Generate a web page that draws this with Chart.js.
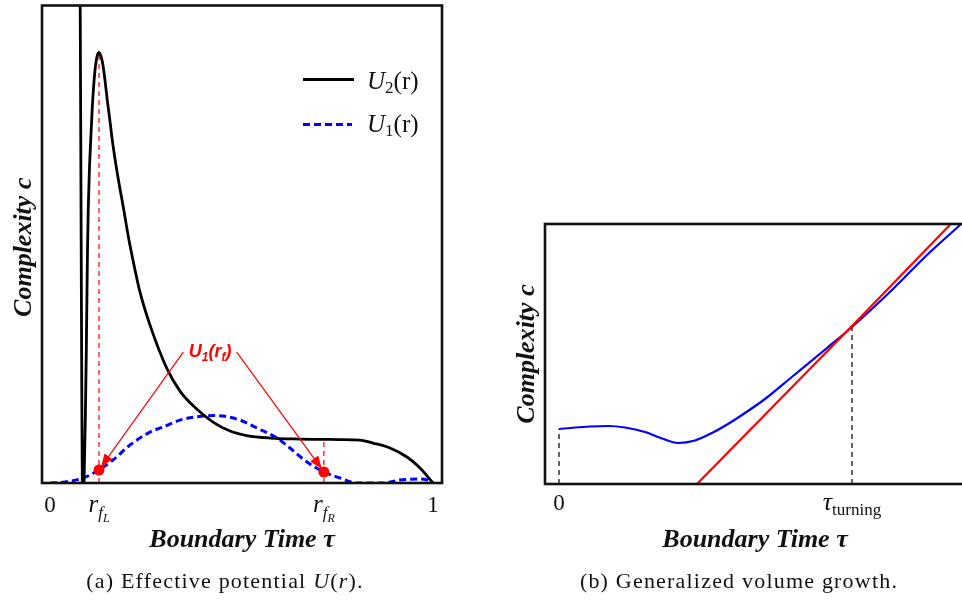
<!DOCTYPE html>
<html>
<head>
<meta charset="utf-8">
<script src="https://cdn.jsdelivr.net/npm/chart.js@4.4.1/dist/chart.umd.min.js"></script>
<style>
  body { margin: 0; width: 962px; height: 601px; overflow: hidden; background: #fff; position: relative; }
  #boxA { position: absolute; left: 0; top: 0; width: 470px; height: 601px; }
  #boxB { position: absolute; left: 500px; top: 0; width: 480px; height: 601px; }
  .cap { position: absolute; top: 568px; font-family: "Liberation Serif", "DejaVu Serif", serif; font-size: 22px;
         letter-spacing: 1.2px; white-space: nowrap; transform: translateX(-50%); color: #111; }
</style>
</head>
<body>
<div id="boxA"><canvas id="chartA"></canvas></div>
<div id="boxB"><canvas id="chartB"></canvas></div>
<div class="cap" style="left:225px">(a) Effective potential <i>U</i>(<i>r</i>).</div>
<div class="cap" style="left:739px">(b) Generalized volume growth.</div>

<script>
// ---- (a) effective potentials ----
var rU2 = [0.0783, 0.0859, 0.0888, 0.0922, 0.0948, 0.0966, 0.0979, 0.1000, 0.1026, 0.1063, 0.1104,
           0.1167, 0.1222, 0.1279, 0.1339, 0.1384, 0.1436, 0.1496, 0.1567, 0.1627, 0.1757, 0.1914,
           0.2063, 0.2238, 0.2350, 0.2611, 0.3047, 0.3394, 0.3830, 0.4256, 0.4700, 0.5136, 0.5744,
           0.6527, 0.7572, 0.8094, 0.8433, 0.8877, 0.9321, 0.9661, 1.0];
var u2 = [5.23, -0.37, 0.0, 0.63, 1.33, 1.93, 2.33, 2.76, 3.10, 3.43, 3.76,
          4.10, 4.26, 4.31, 4.26, 4.18, 4.03, 3.83, 3.62, 3.43, 3.10, 2.76,
          2.43, 2.10, 1.91, 1.58, 1.15, 0.92, 0.74, 0.61, 0.52, 0.475, 0.45,
          0.44, 0.435, 0.43, 0.40, 0.35, 0.26, 0.15, 0.0];
var rU1 = [0, 0.0392, 0.0862, 0.1279, 0.1645, 0.2089, 0.2611, 0.2950, 0.3394, 0.3995, 0.4256,
           0.4517, 0.4961, 0.5144, 0.5405, 0.5927, 0.6266, 0.6710, 0.7154, 0.7572, 0.8016,
           0.8695, 0.9138, 0.9582, 0.9843, 1.0];
var u1 = [0, 0.01, 0.05, 0.13, 0.23, 0.38, 0.51, 0.56, 0.63, 0.67, 0.675,
          0.67, 0.63, 0.60, 0.55, 0.45, 0.35, 0.21, 0.11, 0.05, 0,
          0, 0.03, 0.04, 0.03, 0];
var rTurn = [0.128, 0.715];      // r_fL, r_fR
var u1Turn = [0.13, 0.11];
var u2Turn = [4.31, 0.435];      // top of the guide lines

// ---- (b) complexity growth ----
var tau = [0, 0.16, 0.31, 0.49, 0.66, 0.86, 1.03, 1.19, 1.36, 1.53, 1.69, 1.86, 2.06, 2.34,
           2.68, 2.93, 3.34, 3.68, 4.01, 4.16];
var compl = [0.55, 0.565, 0.575, 0.58, 0.565, 0.52, 0.455, 0.41, 0.435, 0.51, 0.60, 0.71, 0.85, 1.08,
             1.36, 1.57, 1.95, 2.29, 2.59, 2.73];
var tauLin = [1.38, 2.93, 4.16];
var complLin = [0, 1.58, 2.85];
var tauTurning = 2.93;

var SERIF = '"Liberation Serif", "DejaVu Serif", serif';
var SANS = '"Liberation Sans", Arial, sans-serif';

function pts(xs, ys) {
  return xs.map(function(x, i) { return {x: x, y: ys[i]}; });
}

// draw a row of text pieces (text, font, dy), optionally centred on x
function runs(ctx, x, y, parts, center) {
  var w = 0;
  parts.forEach(function(p) { ctx.font = p[1]; w += ctx.measureText(p[0]).width; });
  var cx = center ? x - w / 2 : x;
  parts.forEach(function(p) {
    ctx.font = p[1];
    ctx.fillText(p[0], cx, y + (p[2] || 0));
    cx += ctx.measureText(p[0]).width;
  });
}

function arrow(ctx, x1, y1, x2, y2) {
  var a = Math.atan2(y2 - y1, x2 - x1), len = 13, hw = 5;
  ctx.beginPath();
  ctx.moveTo(x1, y1);
  ctx.lineTo(x2 - Math.cos(a) * len * 0.8, y2 - Math.sin(a) * len * 0.8);
  ctx.stroke();
  ctx.beginPath();
  ctx.moveTo(x2, y2);
  ctx.lineTo(x2 - Math.cos(a) * len - Math.sin(a) * hw, y2 - Math.sin(a) * len + Math.cos(a) * hw);
  ctx.lineTo(x2 - Math.cos(a) * len + Math.sin(a) * hw, y2 - Math.sin(a) * len - Math.cos(a) * hw);
  ctx.closePath();
  ctx.fill();
}

function frame(chart) {
  var c = chart.ctx, a = chart.chartArea;
  c.save();
  c.strokeStyle = '#111';
  c.lineWidth = 2.6;
  c.strokeRect(a.left, a.top, a.right - a.left, a.bottom - a.top);
  c.restore();
}

function yTitle(ctx, x, y) {
  ctx.save();
  ctx.translate(x, y);
  ctx.rotate(-Math.PI / 2);
  ctx.textAlign = 'center';
  ctx.font = 'bold italic 26px ' + SERIF;
  ctx.fillText('Complexity c', 0, 0);
  ctx.restore();
}

var decoA = {
  id: 'decoA',
  afterDraw: function(chart) {
    var ctx = chart.ctx, a = chart.chartArea, sx = chart.scales.x, sy = chart.scales.y;
    frame(chart);
    ctx.save();
    ctx.fillStyle = '#111';
    ctx.textBaseline = 'alphabetic';
    // tick labels
    var base = a.bottom + 29;
    runs(ctx, sx.getPixelForValue(0), base, [['0', '23px ' + SERIF]], true);
    runs(ctx, sx.getPixelForValue(1), base, [['1', '23px ' + SERIF]], true);
    runs(ctx, sx.getPixelForValue(rTurn[0]), base,
      [['r', 'italic 25px ' + SERIF], ['f', 'italic 17px ' + SERIF, 6], ['L', 'italic 12px ' + SERIF, 10]], true);
    runs(ctx, sx.getPixelForValue(rTurn[1]), base,
      [['r', 'italic 25px ' + SERIF], ['f', 'italic 17px ' + SERIF, 6], ['R', 'italic 12px ' + SERIF, 10]], true);
    // axis titles
    ctx.textAlign = 'center';
    ctx.font = 'bold italic 26px ' + SERIF;
    ctx.fillText('Boundary Time \u03c4', (a.left + a.right) / 2, a.bottom + 64);
    ctx.textAlign = 'left';
    yTitle(ctx, 31, (a.top + a.bottom) / 2 + 3);

    // legend
    var lx = a.left + 261;
    ctx.lineWidth = 2.8;
    ctx.strokeStyle = '#000';
    ctx.beginPath(); ctx.moveTo(lx, a.top + 74); ctx.lineTo(lx + 51, a.top + 74); ctx.stroke();
    ctx.strokeStyle = '#0000ff';
    ctx.setLineDash([7, 4]);
    ctx.beginPath(); ctx.moveTo(lx, a.top + 119); ctx.lineTo(lx + 49, a.top + 119); ctx.stroke();
    ctx.setLineDash([]);
    runs(ctx, a.left + 325, a.top + 83, [['U', 'italic 25px ' + SERIF], ['2', '17px ' + SERIF, 4], ['(r)', '25px ' + SERIF]]);
    runs(ctx, a.left + 325, a.top + 126, [['U', 'italic 25px ' + SERIF], ['1', '17px ' + SERIF, 4], ['(r)', '25px ' + SERIF]]);

    // U1(r_f) annotation
    var ly = sy.getPixelForValue(1.31);
    ctx.fillStyle = '#ff0000';
    ctx.strokeStyle = '#ff0000';
    ctx.lineWidth = 1.2;
    runs(ctx, sx.getPixelForValue(0.418), ly + 5,
      [['U', 'bold italic 18px ' + SANS], ['1', 'bold italic 12px ' + SANS, 4], ['(r', 'bold italic 18px ' + SANS],
       ['f', 'bold italic 12px ' + SANS, 4], [')', 'bold italic 18px ' + SANS]], true);
    arrow(ctx, sx.getPixelForValue(0.348), ly, sx.getPixelForValue(rTurn[0]) + 2, sy.getPixelForValue(u1Turn[0]) - 3);
    arrow(ctx, sx.getPixelForValue(0.4875), ly, sx.getPixelForValue(rTurn[1]) - 2, sy.getPixelForValue(u1Turn[1]) - 3);
    ctx.restore();
  }
};

var decoB = {
  id: 'decoB',
  afterDraw: function(chart) {
    var ctx = chart.ctx, a = chart.chartArea, sx = chart.scales.x;
    frame(chart);
    ctx.save();
    ctx.fillStyle = '#111';
    var base = a.bottom + 26;
    runs(ctx, sx.getPixelForValue(0), base, [['0', '23px ' + SERIF]], true);
    runs(ctx, sx.getPixelForValue(tauTurning), base,
      [['\u03c4', 'italic 26px ' + SERIF], ['turning', '17px ' + SERIF, 5]], true);
    ctx.textAlign = 'center';
    ctx.font = 'bold italic 26px ' + SERIF;
    ctx.fillText('Boundary Time \u03c4', a.left + 210, a.bottom + 63);
    yTitle(ctx, a.left - 11, (a.top + a.bottom) / 2);
    ctx.restore();
  }
};

Chart.defaults.animation = false;

new Chart(document.getElementById('chartA'), {
  type: 'scatter',
  data: {
    datasets: [
      { data: pts(rTurn, u1Turn), pointRadius: 5.5, pointBackgroundColor: '#ff0000', pointBorderWidth: 0, showLine: false, order: 0 },
      { data: pts(rU2, u2), showLine: true, borderColor: '#000', borderWidth: 2.8, pointRadius: 0,
        cubicInterpolationMode: 'monotone', order: 1 },
      { data: pts(rU1, u1), showLine: true, borderColor: '#0000ff', borderWidth: 3, borderDash: [7, 4], pointRadius: 0,
        cubicInterpolationMode: 'monotone', order: 2 },
      { data: [{x: rTurn[0], y: 0}, {x: rTurn[0], y: u2Turn[0]}], showLine: true, borderColor: '#ff3030',
        borderWidth: 1.5, borderDash: [5, 4], pointRadius: 0, order: 3 },
      { data: [{x: rTurn[1], y: 0}, {x: rTurn[1], y: u2Turn[1]}], showLine: true, borderColor: '#ff3030',
        borderWidth: 1.5, borderDash: [5, 4], pointRadius: 0, order: 3 }
    ]
  },
  options: {
    responsive: true,
    maintainAspectRatio: false,
    devicePixelRatio: 1,
    layout: { padding: { left: 42, top: 5, right: 28, bottom: 118 } },
    plugins: { legend: { display: false }, tooltip: { enabled: false } },
    scales: {
      x: { type: 'linear', min: -0.0209, max: 1.0235, display: false },
      y: { type: 'linear', min: 0, max: 4.78, display: false }
    }
  },
  plugins: [decoA]
});

new Chart(document.getElementById('chartB'), {
  type: 'scatter',
  data: {
    datasets: [
      { data: pts(tau, compl), showLine: true, borderColor: '#0000ff', borderWidth: 2.2, pointRadius: 0,
        cubicInterpolationMode: 'monotone', order: 1 },
      { data: pts(tauLin, complLin), showLine: true, borderColor: '#ff0000', borderWidth: 2.2, pointRadius: 0, order: 0 },
      { data: [{x: 0, y: 0}, {x: 0, y: compl[0]}], showLine: true, borderColor: '#222', borderWidth: 1.4,
        borderDash: [5, 4], pointRadius: 0, order: 2 },
      { data: [{x: tauTurning, y: 0}, {x: tauTurning, y: compl[tau.indexOf(tauTurning)]}], showLine: true,
        borderColor: '#222', borderWidth: 1.4, borderDash: [5, 4], pointRadius: 0, order: 2 }
    ]
  },
  options: {
    responsive: true,
    maintainAspectRatio: false,
    devicePixelRatio: 1,
    layout: { padding: { left: 45, top: 224, right: 5, bottom: 117 } },
    plugins: { legend: { display: false }, tooltip: { enabled: false } },
    scales: {
      x: { type: 'linear', min: -0.14, max: 4.16, display: false },
      y: { type: 'linear', min: 0, max: 2.6, display: false }
    }
  },
  plugins: [decoB]
});
</script>
</body>
</html>
